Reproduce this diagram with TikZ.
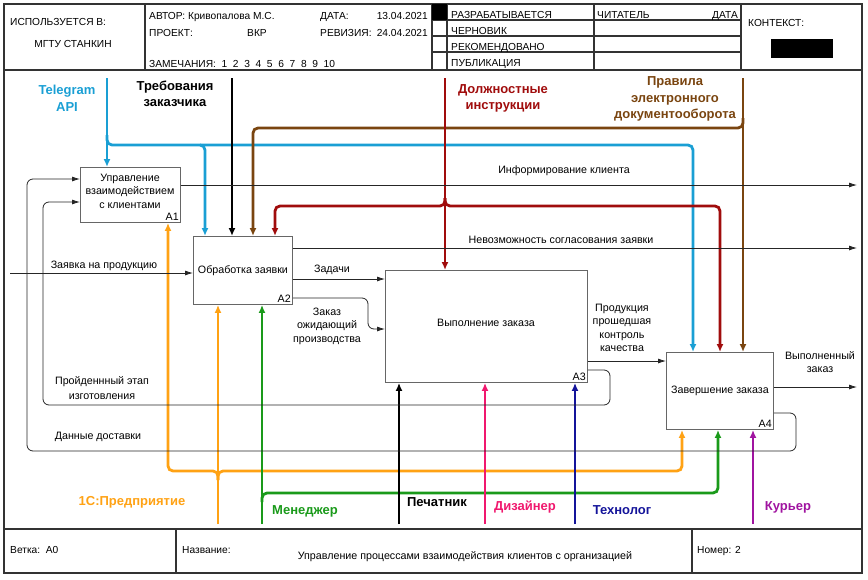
\documentclass[tikz,border=0pt]{standalone}
\usepackage{fontspec}
\setmainfont{Liberation Sans}
\usetikzlibrary{arrows.meta,calc}
\definecolor{cblue}{HTML}{1A9FD4}
\definecolor{cbrown}{HTML}{7A4510}
\definecolor{cred}{HTML}{A00C0C}
\definecolor{corange}{HTML}{FFA214}
\definecolor{cgreen}{HTML}{1A9A1A}
\definecolor{cpink}{HTML}{F0186E}
\definecolor{cnavy}{HTML}{14149A}
\definecolor{cpurple}{HTML}{A014A0}
\begin{document}
\begin{tikzpicture}[x=1pt,y=-1pt,
  font=\fontsize{10.7}{13.5}\selectfont,
  box/.style={draw=black!60, line width=0.9pt, fill=white, anchor=north west, inner sep=0pt, align=center},
  corner/.style={anchor=south east, inner sep=2pt},
  frame/.style={draw=black!80, line width=1.1pt},
  thinarr/.style={draw=black!85, line width=0.8pt, rounded corners=6pt, -{Latex[length=8pt,width=5pt]}},
  fat/.style={line width=2.8pt, rounded corners=5pt, -{Latex[length=8pt,width=7pt]}},
  big/.style={font=\fontsize{13}{16.5}\selectfont\bfseries, align=center},
  lbl/.style={align=center},
  hdr/.style={anchor=base west, inner sep=0pt, font=\fontsize{10.2}{12}\selectfont}
]
\useasboundingbox (0,0) rectangle (868,579);
% ---------------- frame ----------------
\draw[frame] (4,4) rectangle (862,573);
\draw[frame] (4,70) -- (862,70);
\draw[frame] (4,529) -- (862,529);
\draw[frame] (145,4) -- (145,70);
\draw[frame] (432,4) -- (432,70);
\draw[frame] (447,4) -- (447,70);
\draw[frame] (594,4) -- (594,70);
\draw[frame] (741,4) -- (741,70);
\foreach \yy in {20,36,52} \draw[frame] (432,\yy) -- (741,\yy);
\fill[black] (432,4) rectangle (447,20);
\draw[frame] (176,529) -- (176,573);
\draw[frame] (692,529) -- (692,573);
% header texts
\node[hdr] (h1) at (10,25) {ИСПОЛЬЗУЕТСЯ В:};
\node[hdr, anchor=base] (h2) at (73,47) {МГТУ СТАНКИН};
\node[hdr] (h3) at (149,19) {АВТОР: Кривопалова М.С.};
\node[hdr] (h4) at (149,36) {ПРОЕКТ:};
\node[hdr, anchor=base] (h5) at (257,36) {ВКР};
\node[hdr] (h6) at (320,19) {ДАТА:};
\node[hdr, anchor=base east] (h7) at (428,19) {13.04.2021};
\node[hdr] (h8) at (320,36) {РЕВИЗИЯ:};
\node[hdr, anchor=base east] (h9) at (428,36) {24.04.2021};
\node[hdr] (h10) at (149,67) {ЗАМЕЧАНИЯ:\ \ 1\ \ 2\ \ 3\ \ 4\ \ 5\ \ 6\ \ 7\ \ 8\ \ 9\ \ 10};
\node[hdr] (h11) at (451,18.5) {РАЗРАБАТЫВАЕТСЯ};
\node[hdr] (h12) at (451,34.5) {ЧЕРНОВИК};
\node[hdr] (h13) at (451,50.5) {РЕКОМЕНДОВАНО};
\node[hdr] (h14) at (451,66.5) {ПУБЛИКАЦИЯ};
\node[hdr] (h15) at (597,18.5) {ЧИТАТЕЛЬ};
\node[hdr, anchor=base east] (h16) at (738,18.5) {ДАТА};
\node[hdr] (h17) at (748,26) {КОНТЕКСТ:};
\fill[black] (771,39) rectangle (833,58);
% footer texts
\node[hdr] (f1) at (10,553) {Ветка:\ \ A0};
\node[hdr] (f2) at (182,553) {Название:};
\node[hdr, anchor=base, font=\fontsize{10.7}{12}\selectfont] (f3) at (465,559) {Управление процессами взаимодействия клиентов с организацией};
\node[hdr] (f4) at (697,553) {Номер: 2};
% ---------------- boxes ----------------
\node[box, minimum width=100pt, minimum height=55pt] (A1) at (80,167) {};
\node[align=center] (A1t) at (130,191) {Управление\\взаимодействием\\с клиентами};
\node[corner] (A1n) at (A1.south east) {A1};
\node[box, minimum width=99pt, minimum height=68pt] (A2) at (193,236) {Обработка заявки};
\node[corner] (A2n) at (A2.south east) {A2};
\node[box, minimum width=202pt, minimum height=112pt] (A3) at (385,270) {};
\node (A3t) at (486,323) {Выполнение заказа};
\node[corner] (A3n) at (A3.south east) {A3};
\node[box, minimum width=107pt, minimum height=77pt] (A4) at (666,352) {Завершение заказа};
\node[corner] (A4n) at (A4.south east) {A4};
% ---------------- free ends ----------------
\coordinate (tgS) at (107,78);
\coordinate (trS) at (232,78);
\coordinate (dlS) at (445,78);
\coordinate (prS) at (743,78);
\coordinate (onS) at (218,524);
\coordinate (mnS) at (262,524);
\coordinate (peS) at (399,524);
\coordinate (diS) at (485,524);
\coordinate (teS) at (575,524);
\coordinate (kuS) at (753,524);
\coordinate (zaS) at (10,273);
\coordinate (infE) at (857,185);
\coordinate (nevE) at (857,248);
\coordinate (vypE) at (857,387);
% ---------------- control arrows (top) ----------------
\draw[fat, cblue] (tgS) -- (tgS |- A1.north);
\draw[fat, cblue] (107,135) -- (107,145) -- (205,145) -- (205,0 |- A2.north);
\draw[fat, cblue] (200,145) -- (693,145) -- (693,0 |- A4.north);
\draw[fat, black] (trS) -- (trS |- A2.north);
\draw[fat, cbrown] (prS) -- (prS |- A4.north);
\draw[fat, cbrown] (743,118) -- (743,128) -- (253,128) -- (253,0 |- A2.north);
\draw[fat, cred] (dlS) -- (dlS |- A3.north);
\draw[fat, cred] (445,198) -- (445,206) -- (275,206) -- (275,0 |- A2.north);
\draw[fat, cred] (445,198) -- (445,206) -- (720,206) -- (720,0 |- A4.north);
% ---------------- mechanism arrows (bottom) ----------------
\draw[fat, corange] (onS) -- (onS |- A2.south);
\draw[fat, corange] (218,480) -- (218,471) -- (168,471) -- (168,0 |- A1.south);
\draw[fat, corange] (218,480) -- (218,471) -- (682,471) -- (682,0 |- A4.south);
\draw[fat, cgreen] (mnS) -- (mnS |- A2.south);
\draw[fat, cgreen] (262,502) -- (262,493) -- (718,493) -- (718,0 |- A4.south);
\draw[fat, black] (peS) -- (peS |- A3.south);
\draw[fat, cpink] (diS) -- (diS |- A3.south);
\draw[fat, cnavy] (teS) -- (teS |- A3.south);
\draw[fat, cpurple] (kuS) -- (kuS |- A4.south);
% ---------------- inputs / outputs ----------------
\draw[thinarr] (zaS) -- (zaS -| A2.west);
\draw[thinarr] (A1.east |- infE) -- (infE);
\draw[thinarr] (A2.east |- nevE) -- (nevE);
\draw[thinarr] (A2.east |- 0,279) -- (A3.west |- 0,279);
\draw[thinarr] (A2.east |- 0,298) -- (368,298) -- (368,329) -- (A3.west |- 0,329);
\draw[thinarr] (A3.east |- 0,361) -- (A4.west |- 0,361);
\draw[thinarr] (A4.east |- vypE) -- (vypE);
\draw[thinarr] (A3.east |- 0,370) -- (610,370) -- (610,405) -- (43,405) -- (43,202) -- (A1.west |- 0,202);
\draw[thinarr] (A4.east |- 0,413) -- (796,413) -- (796,451) -- (27,451) -- (27,179) -- (A1.west |- 0,179);
% ---------------- labels ----------------
\node[big, text=cblue] (lTg) at (67,98.5) {Telegram\\API};
\node[big, text=black] (lTr) at (175,94) {Требования\\заказчика};
\node[big, text=cred] (lDl) at (503,98.5) {Должностные\\инструкции};
\node[big, text=cbrown] (lPr) at (675,99) {Правила\\электронного\\документооборота};
\node[big, text=corange] (l1C) at (132,502) {1С:Предприятие};
\node[big, text=cgreen] (lMn) at (305,511) {Менеджер};
\node[big, text=black] (lPe) at (437,502) {Печатник};
\node[big, text=cpink] (lDi) at (525,507) {Дизайнер};
\node[big, text=cnavy] (lTe) at (622,510) {Технолог};
\node[big, text=cpurple] (lKu) at (788,507) {Курьер};
\node[lbl] (tInf) at (564,171) {Информирование клиента};
\node[lbl] (tNev) at (561,240) {Невозможность согласования заявки};
\node[lbl] (tZad) at (332,270) {Задачи};
\node[lbl] (tZak) at (327,326) {Заказ\\ожидающий\\производства};
\node[lbl] (tPro) at (622,328) {Продукция\\прошедшая\\контроль\\качества};
\node[lbl] (tVyp) at (820,362) {Выполненный\\заказ};
\node[lbl] (tZay) at (104,266) {Заявка на продукцию};
\node[lbl, font=\fontsize{10.7}{15}\selectfont] (tPrj) at (102,388.5) {Пройденнный этап\\изготовления};
\node[lbl] (tDan) at (98,437) {Данные доставки};
\end{tikzpicture}
\end{document}
